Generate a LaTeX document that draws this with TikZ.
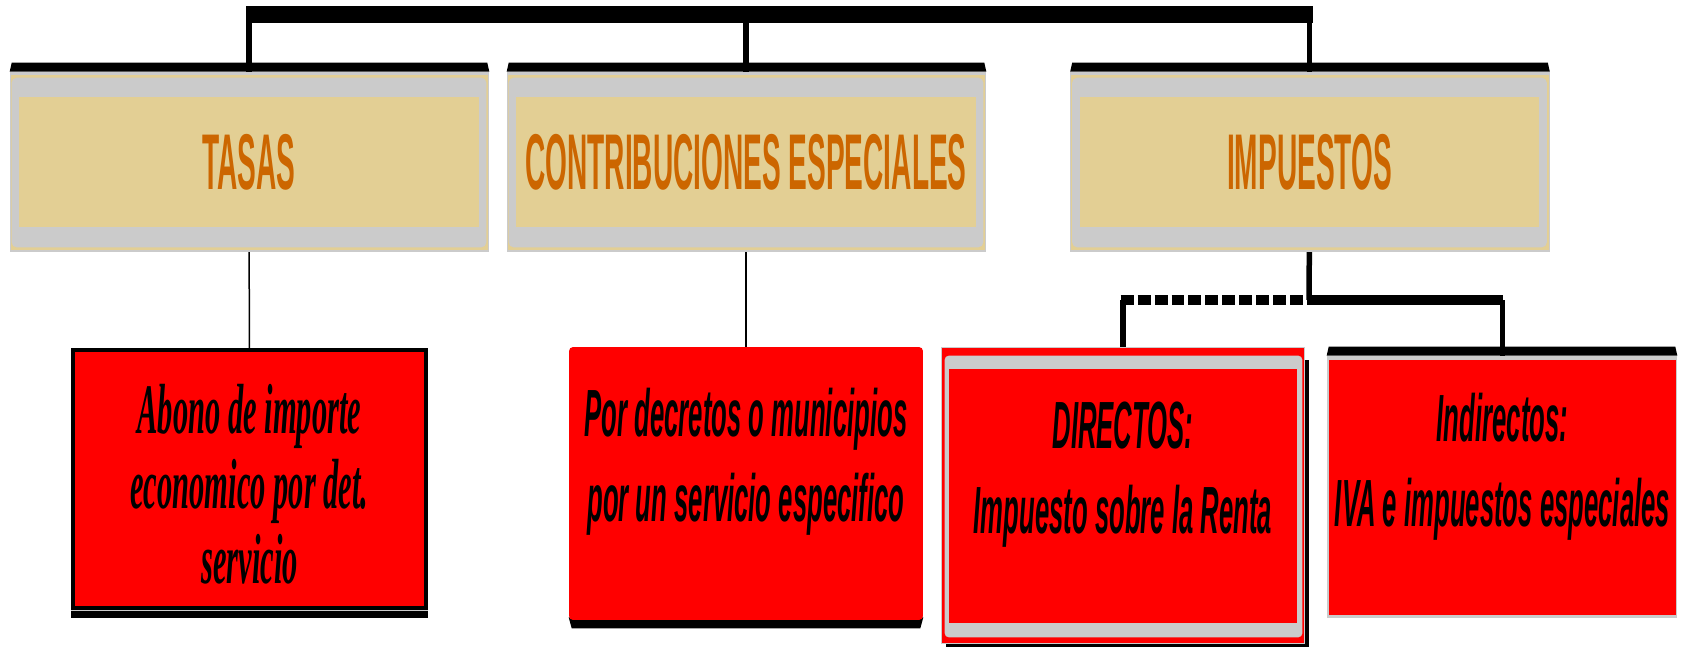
\documentclass[tikz,border=0pt]{standalone}
\usepackage{fontspec}
\usetikzlibrary{positioning,calc,backgrounds}

\newfontfamily\hdrfont[FakeStretch=0.355]{Liberation Sans}
\newfontfamily\boxfont[FakeStretch=0.385]{Liberation Sans}
\newfontfamily\serifboxfont[FakeStretch=0.43]{Liberation Serif}

\definecolor{tanfill}{HTML}{E3CF94}
\definecolor{panelgray}{HTML}{CBCBCB}
\definecolor{hdrorange}{HTML}{CC6600}

\tikzset{
  header/.style={rectangle, fill=tanfill, minimum width=9.2cm, minimum height=2.6cm,
    inner sep=0pt, text=hdrorange, font=\hdrfont\bfseries\fontsize{45pt}{50pt}\selectfont},
  redbox/.style={rectangle, fill=red, inner sep=0pt},
  boxtext/.style={align=center, font=\boxfont\bfseries\itshape\fontsize{38pt}{48.4pt}\selectfont},
  serifboxtext/.style={align=center, font=\serifboxfont\bfseries\itshape\fontsize{40.4pt}{42.7pt}\selectfont},
  legline/.style={line width=0.11cm},
  thinline/.style={line width=0.03cm},
  topbar/.style={line width=0.34cm, shorten <=-0.06cm, shorten >=-0.06cm},
  splitbar/.style={line width=0.21cm, shorten <=-0.05cm},
}

\begin{document}
\begin{tikzpicture}[x=0.02cm, y=-0.02cm]
    \useasboundingbox (0,0) rectangle (1681,648);

    % Header boxes
    \node[header] (tasas) at (249,162) {TASAS};
    \node[header] (contrib) at (746,162) {CONTRIBUCIONES ESPECIALES};
    \node[header] (impuestos) at (1309.5,162) {IMPUESTOS};

    % Red boxes
    \node[redbox, minimum width=6.98cm, minimum height=5.08cm] (abono) at (249.5,479) {};
    \node[redbox, rounded corners=0.08cm, minimum width=7.08cm, minimum height=5.46cm] (decretos) at (746,483.5) {};
    \node[redbox, minimum width=6.96cm, minimum height=5.08cm] (directos) at (1123,496) {};
    \node[redbox, minimum width=6.94cm, minimum height=5.1cm] (indirectos) at (1502.5,487.5) {};

    % Box texts
    \node[serifboxtext] (abonotxt) at ([yshift=-0.1cm]abono.center) {Abono de importe\\economico por det.\\servicio};
    \node[boxtext] (decretostxt) at ([yshift=0.43cm]decretos.center) {Por decretos o municipios\\por un servicio especifico};
    \node[boxtext] (directostxt) at ([yshift=0.42cm]directos.center) {DIRECTOS:\\Impuesto sobre la Renta};
    \node[boxtext] (indirectostxt) at ([yshift=0.41cm]indirectos.center) {Indirectos:\\IVA e impuestos especiales};

    \begin{scope}[on background layer]
    % Connectors
    \coordinate (top) at (746,15);
    \coordinate (split) at (1309,300);
    \draw[legline] (tasas.north) -- (tasas.north |- top);
    \draw[legline] (contrib.north) -- (contrib.north |- top);
    \draw[legline] (impuestos.north) -- (impuestos.north |- top);
    \draw[topbar] (tasas.north |- top) -- (impuestos.north |- top);
    \draw[thinline] (tasas.south) -- (abono.north);
    \draw[thinline] (contrib.south) -- (decretos.north);
    \draw[legline] (impuestos.south) -- (split);
    \draw[splitbar, dash pattern=on 0.26cm off 0.08cm] (directos.north |- split) -- (split);
    \draw[splitbar] (split) -- (indirectos.north |- split);
    \draw[legline] (directos.north) -- (directos.north |- split);
    \draw[legline] (indirectos.north) -- (indirectos.north |- split);

    % TASAS frame
    \fill ($(tasas.north west)+(-9,-25)$) -- ++(2,-9) -- ($(tasas.north east)+(8,-34)$) -- ++(2,9) -- cycle;
    \fill[panelgray] ($(tasas.north west)+(-9,-25)$) rectangle ($(tasas.south east)+(10,25)$);
    \fill[tanfill] ($(tasas.north west)+(-8,-22)$) rectangle ($(tasas.south east)+(9,23)$);
    \fill[panelgray, rounded corners=0.1cm] ($(tasas.north west)+(-7,-19)$) rectangle ($(tasas.south east)+(7,20)$);

    % CONTRIBUCIONES frame
    \fill ($(contrib.north west)+(-9,-25)$) -- ++(2,-9) -- ($(contrib.north east)+(8,-34)$) -- ++(2,9) -- cycle;
    \fill[panelgray] ($(contrib.north west)+(-9,-25)$) rectangle ($(contrib.south east)+(10,25)$);
    \fill[tanfill] ($(contrib.north west)+(-8,-22)$) rectangle ($(contrib.south east)+(9,23)$);
    \fill[panelgray, rounded corners=0.1cm] ($(contrib.north west)+(-7,-19)$) rectangle ($(contrib.south east)+(7,20)$);

    % IMPUESTOS frame
    \fill ($(impuestos.north west)+(-9,-25)$) -- ++(2,-9) -- ($(impuestos.north east)+(8,-34)$) -- ++(2,9) -- cycle;
    \fill[panelgray] ($(impuestos.north west)+(-9,-25)$) rectangle ($(impuestos.south east)+(10,25)$);
    \fill[tanfill] ($(impuestos.north west)+(-8,-22)$) rectangle ($(impuestos.south east)+(9,23)$);
    \fill[panelgray, rounded corners=0.1cm] ($(impuestos.north west)+(-7,-19)$) rectangle ($(impuestos.south east)+(7,20)$);

    % Abono frame
    \fill ($(abono.north west)+(-4,-4)$) rectangle ($(abono.south east)+(4,12)$);
    \draw[panelgray, line width=0.02cm] ($(abono.south west)+(-4,4)$) -- ($(abono.south east)+(4,4)$);

    % Decretos shadow
    \fill ($(decretos.south west)+(0,-3)$) -- ($(decretos.south east)+(0,-3)$) -- ++(-3,11) -- ($(decretos.south west)+(3,8)$) -- cycle;

    % Directos frame
    \fill ($(directos.north west)+(-3,-9)$) rectangle ($(directos.south east)+(12,24)$);
    \filldraw[fill=red, draw=panelgray, line width=0.03cm] ($(directos.north west)+(-7,-21)$) rectangle ($(directos.south east)+(7,20)$);
    \fill[panelgray, rounded corners=0.08cm] ($(directos.north west)+(-4,-13)$) rectangle ($(directos.south east)+(5,14)$);

    % Indirectos frame
    \fill[panelgray] ($(indirectos.north west)+(-2,-4)$) rectangle ($(indirectos.south east)+(1,3)$);
    \fill ($(indirectos.north west)+(-2,-4)$) -- ++(2,-9) -- ($(indirectos.north east)+(-1,-13)$) -- ++(2,9) -- cycle;
    \end{scope}
\end{tikzpicture}
\end{document}
